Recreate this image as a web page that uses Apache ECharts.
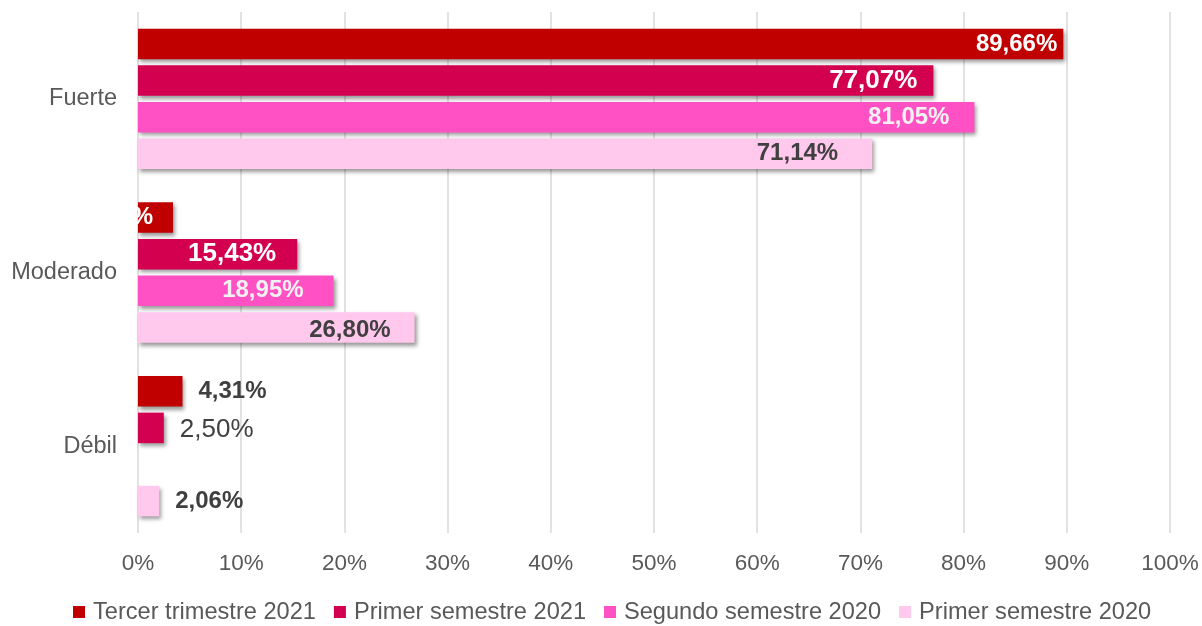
<!DOCTYPE html>
<html>
<head>
<meta charset="utf-8">
<script src="https://cdn.jsdelivr.net/npm/echarts@6/dist/echarts.min.js"></script>
<style>
  html, body { margin: 0; padding: 0; background: #fff; }
  #main { width: 1202px; height: 626px; }
</style>
</head>
<body>
<div id="main"></div>
<script>
const categories = ['Fuerte', 'Moderado', 'Débil'];
const seriesNames = ['Tercer trimestre 2021', 'Primer semestre 2021', 'Segundo semestre 2020', 'Primer semestre 2020'];
const tercerTrimestre2021 = [89.66, 3.39, 4.31];
const primerSemestre2021 = [77.07, 15.43, 2.50];
const segundoSemestre2020 = [81.05, 18.95, null];
const primerSemestre2020 = [71.14, 26.80, 2.06];

const colors = ['#C00000', '#D2004F', '#FF50C4', '#FFC8EC'];
const FONT = '"Liberation Sans", Arial, sans-serif';
const GRAY = '#595959', DARK = '#404040';

const fmt = v => v.toFixed(2).replace('.', ',') + '%';

// label look for each bar, per series then per category
const labelLook = [
  [
    { position: 'insideRight', distance: 6, color: '#fff', fontSize: 24, fontWeight: 'bold' },
    { position: 'insideRight', distance: 20, color: '#fff', fontSize: 24, fontWeight: 'bold' },
    { position: 'right', distance: 16, color: DARK, fontSize: 24, fontWeight: 'bold' }
  ],
  [
    { position: 'insideRight', distance: 16, color: '#fff', fontSize: 26, fontWeight: 'bold' },
    { position: 'insideRight', distance: 21, color: '#fff', fontSize: 26, fontWeight: 'bold' },
    { position: 'right', distance: 16, color: DARK, fontSize: 26, fontWeight: 'normal', offset: [0, 2] }
  ],
  [
    { position: 'insideRight', distance: 25, color: '#F2F2F2', fontSize: 24, fontWeight: 'bold' },
    { position: 'insideRight', distance: 30, color: '#F2F2F2', fontSize: 24, fontWeight: 'bold' },
    null
  ],
  [
    { position: 'insideRight', distance: 34, color: DARK, fontSize: 24, fontWeight: 'bold' },
    { position: 'insideRight', distance: 24, color: DARK, fontSize: 24, fontWeight: 'bold', offset: [0, 3] },
    { position: 'right', distance: 16, color: DARK, fontSize: 24, fontWeight: 'bold' }
  ]
];

const allValues = [tercerTrimestre2021, primerSemestre2021, segundoSemestre2020, primerSemestre2020];

const series = allValues.map((vals, si) => ({
  name: seriesNames[si],
  type: 'bar',
  barWidth: 30.5,
  barGap: '20%',
  itemStyle: {
    color: colors[si],
    shadowColor: 'rgba(0,0,0,0.4)',
    shadowBlur: 4,
    shadowOffsetX: 2,
    shadowOffsetY: 3
  },
  label: { show: true, fontFamily: FONT, formatter: p => fmt(p.value) },
  data: vals.map((v, ci) => {
    if (v === null) return null;
    const look = labelLook[si][ci];
    return { value: v, label: { show: true, ...look } };
  })
}));

const chart = echarts.init(document.getElementById('main'));
chart.setOption({
  backgroundColor: '#fff',
  animation: false,
  textStyle: { fontFamily: FONT },
  grid: { left: 138, right: 32, top: 12, bottom: 93, containLabel: false },
  xAxis: {
    type: 'value',
    min: 0,
    max: 100,
    interval: 10,
    axisLine: { show: false },
    axisTick: { show: false },
    axisLabel: { color: GRAY, fontSize: 22.5, fontFamily: FONT, margin: 19, formatter: v => v + '%' },
    splitLine: { show: true, lineStyle: { color: '#D9D9D9', width: 1.5 } }
  },
  yAxis: {
    type: 'category',
    data: categories,
    inverse: true,
    axisLine: { show: false },
    axisTick: { show: false },
    axisLabel: { color: GRAY, fontSize: 23.5, fontFamily: FONT, margin: 21, padding: [5, 0, 0, 0] }
  },
  legend: {
    left: 73,
    top: 600,
    padding: 0,
    icon: 'rect',
    itemWidth: 12,
    itemHeight: 12,
    itemGap: 18,
    textStyle: { color: GRAY, fontSize: 23.6, fontFamily: FONT, padding: [0, 0, 0, 3] },
    data: seriesNames
  },
  series: series
});
</script>
</body>
</html>
